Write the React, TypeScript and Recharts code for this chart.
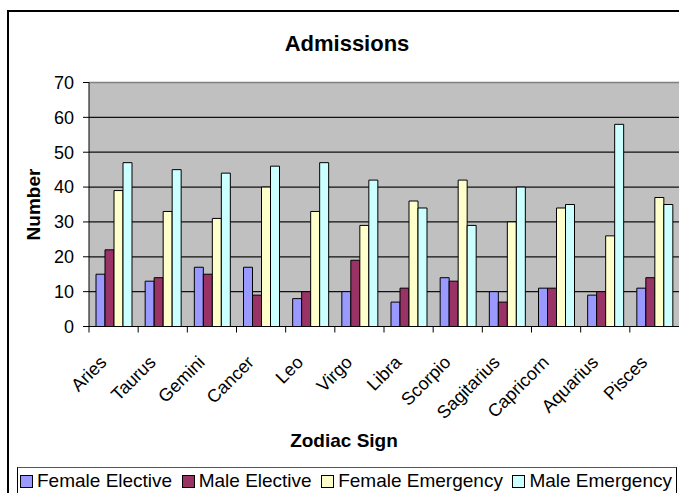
import React from "react";
import {
  BarChart,
  Bar,
  XAxis,
  YAxis,
  CartesianGrid,
  Legend,
  ReferenceLine,
} from "recharts";

const signs = [
  "Aries",
  "Taurus",
  "Gemini",
  "Cancer",
  "Leo",
  "Virgo",
  "Libra",
  "Scorpio",
  "Sagitarius",
  "Capricorn",
  "Aquarius",
  "Pisces",
];
const femaleElective = [15, 13, 17, 17, 8, 10, 7, 14, 10, 11, 9, 11];
const maleElective = [22, 14, 15, 9, 10, 19, 11, 13, 7, 11, 10, 14];
const femaleEmergency = [39, 33, 31, 40, 33, 29, 36, 42, 30, 34, 26, 37];
const maleEmergency = [47, 45, 44, 46, 47, 42, 34, 29, 40, 35, 58, 35];
const yTicks = [0, 10, 20, 30, 40, 50, 60, 70];

const series = [
  { key: "Female Elective", values: femaleElective, color: "#9999FF" },
  { key: "Male Elective", values: maleElective, color: "#993366" },
  { key: "Female Emergency", values: femaleEmergency, color: "#FFFFCC" },
  { key: "Male Emergency", values: maleEmergency, color: "#CCFFFF" },
];

const data = signs.map((sign, i) => {
  const row: Record<string, any> = { sign };
  series.forEach((s) => {
    row[s.key] = s.values[i];
  });
  return row;
});

const FONT = "'Liberation Sans', Arial, sans-serif";

// category labels rotated like the original, plus a tick mark at the band boundary
const SignTick = (props: any) => {
  const { x, y, payload } = props;
  const half = payload && payload.offset ? payload.offset : 0;
  const ax = x - 6;
  const ay = y + 29;
  return (
    <g>
      <line x1={x - half} x2={x - half} y1={y - 8} y2={y - 2} stroke="#000" />
      <text
        x={ax}
        y={ay}
        textAnchor="end"
        transform={`rotate(-45, ${ax}, ${ay})`}
        fontSize={18}
        fontFamily={FONT}
        fill="#000"
      >
        {payload.value}
      </text>
    </g>
  );
};

// keep the legend in series order (recharts sorts it by name otherwise)
const LegendBox = (props: any) => {
  const items = [...(props.payload || [])].sort(
    (a: any, b: any) =>
      series.findIndex((s) => s.key === a.value) -
      series.findIndex((s) => s.key === b.value)
  );
  return (
    <div
      style={{
        boxSizing: "border-box",
        width: 660,
        height: 28,
        border: "1px solid #000",
        borderTopColor: "#555",
        display: "flex",
        alignItems: "center",
        justifyContent: "space-between",
        paddingLeft: 2,
        paddingRight: 4,
        fontFamily: FONT,
        fontSize: 19,
        color: "#000",
        background: "#fff",
        whiteSpace: "nowrap",
      }}
    >
      {items.map((it: any) => (
        <div key={it.value} style={{ display: "flex", alignItems: "center" }}>
          <span
            style={{
              display: "inline-block",
              boxSizing: "border-box",
              width: 13,
              height: 13,
              border: "1px solid #000",
              background: it.color,
              marginRight: 4,
            }}
          />
          <span>{it.value}</span>
        </div>
      ))}
    </div>
  );
};

export default function App() {
  return (
    <div
      style={{
        position: "relative",
        width: 679,
        height: 493,
        overflow: "hidden",
        background: "#fff",
        fontFamily: FONT,
      }}
    >
      <style>{"html,body{margin:0;padding:0;overflow:hidden}"}</style>
      {/* outer frame: only its left and top edges fall inside the picture */}
      <div
        style={{
          position: "absolute",
          left: 7,
          top: 10,
          width: 672,
          height: 483,
          boxSizing: "border-box",
          borderLeft: "2px solid #000",
          borderTop: "2px solid #000",
        }}
      />
      <div
        style={{
          position: "absolute",
          left: 0,
          top: 31,
          width: 694,
          textAlign: "center",
          fontWeight: "bold",
          fontSize: 22,
          color: "#000",
        }}
      >
        Admissions
      </div>
      <div style={{ position: "absolute", left: 0, top: 0 }}>
        <BarChart
          width={679}
          height={500}
          data={data}
          margin={{ top: 82.5, right: 0, left: 0, bottom: 5 }}
          barCategoryGap={7}
          barGap={0}
        >
          <CartesianGrid
            vertical={false}
            stroke="#111"
            strokeWidth={1.2}
            fill="#C0C0C0"
            fillOpacity={1}
          />
          <ReferenceLine y={70} stroke="#808080" strokeWidth={1.5} />
          <XAxis
            dataKey="sign"
            interval={0}
            height={140.5}
            tickLine={false}
            axisLine={{ stroke: "#000" }}
            tick={<SignTick />}
            label={{
              value: "Zodiac Sign",
              position: "insideBottom",
              offset: 20,
              dx: -40,
              fontSize: 19,
              fontWeight: "bold",
              fontFamily: FONT,
              fill: "#000",
            }}
          />
          <YAxis
            width={89}
            domain={[0, 70]}
            ticks={yTicks}
            interval={0}
            tickSize={6}
            tickMargin={9}
            tickLine={{ stroke: "#000" }}
            axisLine={{ stroke: "#000" }}
            tick={{ fontSize: 18, fill: "#000", fontFamily: FONT }}
            label={{
              value: "Number",
              angle: -90,
              position: "center",
              dx: -11.5,
              fontSize: 19,
              fontWeight: "bold",
              fontFamily: FONT,
              fill: "#000",
            }}
          />
          <Legend
            verticalAlign="bottom"
            content={<LegendBox />}
            wrapperStyle={{ left: 17, width: 660 }}
          />
          {series.map((s) => (
            <Bar
              key={s.key}
              dataKey={s.key}
              fill={s.color}
              stroke="#000"
              strokeWidth={1}
              isAnimationActive={false}
            />
          ))}
        </BarChart>
      </div>
    </div>
  );
}
